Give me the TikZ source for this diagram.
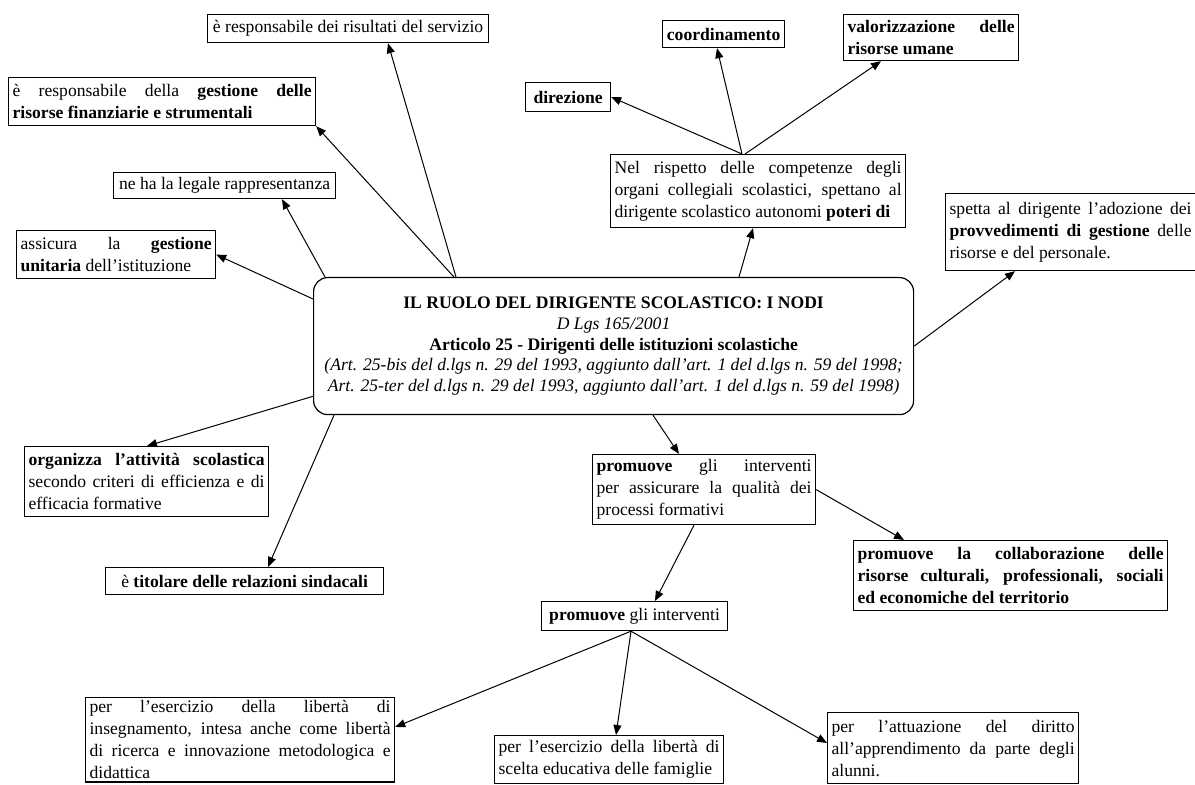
\documentclass[tikz,border=0pt]{standalone}
\usepackage{fontspec}
\setmainfont{Liberation Serif}
\usetikzlibrary{arrows.meta, calc}
\tikzset{
    nodo/.style={draw, line width=0.6pt, rectangle, anchor=north west,
        inner xsep=2pt, inner ysep=1.5pt, align=justify,
        font=\fontsize{8.8}{11}\selectfont},
    singolo/.style={nodo, align=center},
    freccia/.style={-{Triangle[length=5pt, width=4pt]}, line width=0.5pt}
}

\begin{document}
\begin{tikzpicture}[x=0.5pt, y=-0.5pt]

	\useasboundingbox (0,0) rectangle (1195,785);

	% Nodo centrale
	\node[nodo, rounded corners=7pt, align=center, minimum width=300pt,
	      minimum height=68.5pt, font=\fontsize{8.8}{10.3}\selectfont]
	      (centro) at (313,277)
	      {\textbf{IL RUOLO DEL DIRIGENTE SCOLASTICO: I NODI}\\
	       \textit{D Lgs 165/2001}\\
	       \textbf{Articolo 25 - Dirigenti delle istituzioni scolastiche}\\
	       \textit{(Art. 25-bis del d.lgs n. 29 del 1993, aggiunto dall'art. 1 del d.lgs n. 59 del 1998;}\\
	       \textit{Art. 25-ter del d.lgs n. 29 del 1993, aggiunto dall'art. 1 del d.lgs n. 59 del 1998)}};

	% Parte sinistra in alto
	\node[singolo, minimum width=140.5pt, minimum height=14pt] (risultati) at (207,14)
	      {è responsabile dei risultati del servizio};
	\node[nodo, text width=149.5pt, minimum height=24pt] (gestione) at (8,77)
	      {è responsabile della \textbf{gestione delle}\linebreak
	       \textbf{risorse finanziarie e strumentali}};
	\node[singolo, minimum width=111pt, minimum height=13pt] (legale) at (113,172)
	      {ne ha la legale rappresentanza};
	\node[nodo, text width=95.5pt, minimum height=24pt] (assicura) at (16,230)
	      {assicura la \textbf{gestione}\linebreak \textbf{unitaria} dell'istituzione};

	% Poteri
	\node[nodo, text width=143.5pt, minimum height=36.5pt] (rispetto) at (610,154)
	      {Nel rispetto delle competenze degli\linebreak
	       organi collegiali scolastici, spettano al\linebreak
	       dirigente scolastico autonomi \textbf{poteri di}};
	\node[singolo, minimum width=42.5pt, minimum height=14.5pt] (direzione) at (525,82)
	      {\textbf{direzione}};
	\node[singolo, minimum width=61pt, minimum height=13.5pt] (coordinamento) at (662,20)
	      {\textbf{coordinamento}};
	\node[nodo, text width=83.5pt, minimum height=23pt] (valorizzazione) at (843,14)
	      {\textbf{valorizzazione delle}\linebreak \textbf{risorse umane}};
	\node[nodo, text width=121pt, minimum height=38.5pt] (spetta) at (945,193)
	      {spetta al dirigente l'adozione dei\linebreak
	       \textbf{provvedimenti di gestione} delle\linebreak
	       risorse e del personale.};

	% Parte sinistra in basso
	\node[nodo, text width=118pt, minimum height=35pt] (organizza) at (24,446)
	      {\textbf{organizza l'attività scolastica}\linebreak
	       secondo criteri di efficienza e di\linebreak
	       efficacia formative};
	\node[singolo, minimum width=139pt, minimum height=13.5pt] (titolare) at (105,567)
	      {è \textbf{titolare delle relazioni sindacali}};

	% Promozione
	\node[nodo, text width=107.5pt, minimum height=35pt] (promuove1) at (592,454)
	      {\textbf{promuove} gli interventi\linebreak
	       per assicurare la qualità dei\linebreak
	       processi formativi};
	\node[nodo, text width=153pt, minimum height=35pt] (collab) at (853,540)
	      {\textbf{promuove la collaborazione delle\linebreak
	       risorse culturali, professionali, sociali\linebreak
	       ed economiche del territorio}};
	\node[singolo, minimum width=93pt, minimum height=14.5pt] (promuove2) at (541,601)
	      {\textbf{promuove} gli interventi};
	\node[nodo, text width=150.5pt] (liberta) at (85,697)
	      {per l'esercizio della libertà di\linebreak
	       insegnamento, intesa anche come libertà\linebreak
	       di ricerca e innovazione metodologica e\linebreak
	       didattica};
	\node[nodo, text width=110.5pt, minimum height=24pt] (famiglie) at (494,735)
	      {per l'esercizio della libertà di\linebreak
	       scelta educativa delle famiglie};
	\node[nodo, text width=121.5pt, minimum height=35.5pt] (attuazione) at (827,712)
	      {per l'attuazione del diritto\linebreak
	       all'apprendimento da parte degli\linebreak
	       alunni.};

	% Frecce dal nodo centrale
	\draw[freccia] ($(centro.north west)+(143,0)$) -- ($(risultati.south west)+(181,0)$);
	\draw[freccia] ($(centro.north west)+(141,0)$) -- (gestione.south east);
	\draw[freccia] ($(centro.north west)+(12,0)$) -- ($(legale.south west)+(169,0)$);
	\draw[freccia] ($(centro.north west)+(0,22)$) -- (assicura.east);
	\draw[freccia] ($(centro.north west)+(1,119)$) -- ($(organizza.north west)+(123,0)$);
	\draw[freccia] ($(centro.south west)+(21,0)$) -- ($(titolare.north west)+(163,0)$);
	\draw[freccia] ($(centro.north west)+(426,0)$) -- ($(rispetto.south west)+(143,0)$);
	\draw[freccia] (centro.east) -- ($(spetta.south west)+(70,0)$);
	\draw[freccia] ($(centro.south west)+(340,0)$) -- ($(promuove1.north west)+(87,0)$);

	% Poteri di ...
	\draw[freccia] ($(rispetto.north west)+(132,0)$) -- (direzione.east);
	\draw[freccia] ($(rispetto.north west)+(132,0)$) -- ($(coordinamento.south west)+(55,0)$);
	\draw[freccia] ($(rispetto.north west)+(135,0)$) -- ($(valorizzazione.south west)+(38,0)$);

	% Promuove ...
	\draw[freccia] (promuove1.east) -- ($(collab.north west)+(51,0)$);
	\draw[freccia] ($(promuove1.south west)+(102,0)$) -- ($(promuove2.north west)+(114,0)$);
	\draw[freccia] ($(promuove2.south west)+(90,0)$) -- ($(liberta.north east)+(0,30)$);
	\draw[freccia] ($(promuove2.south west)+(90,0)$) -- ($(famiglie.north west)+(122,0)$);
	\draw[freccia] ($(promuove2.south west)+(90,0)$) -- ($(attuazione.north west)+(0,31)$);

\end{tikzpicture}
\end{document}
